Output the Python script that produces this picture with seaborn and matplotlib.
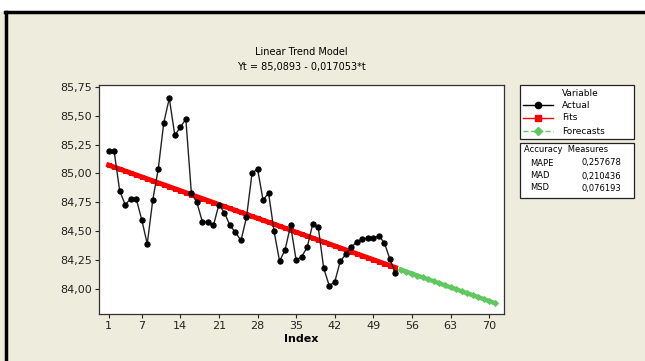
import numpy as np
import pandas as pd
import matplotlib
matplotlib.use("Agg")
import matplotlib.pyplot as plt
import seaborn as sns
from matplotlib.lines import Line2D
from matplotlib.patches import Rectangle
from matplotlib.ticker import FuncFormatter

# observed series (Index 1..53)
actual = [85.19, 85.19, 84.85, 84.73, 84.78, 84.78, 84.60, 84.39, 84.77, 85.04,
          85.44, 85.65, 85.33, 85.40, 85.47, 84.83, 84.75, 84.58, 84.58, 84.55,
          84.73, 84.66, 84.55, 84.49, 84.42, 84.62, 85.00, 85.04, 84.77, 84.83,
          84.50, 84.24, 84.34, 84.55, 84.25, 84.28, 84.36, 84.56, 84.54, 84.18,
          84.03, 84.06, 84.24, 84.30, 84.36, 84.41, 84.43, 84.44, 84.44, 84.46,
          84.40, 84.26, 84.14]

# fitted values of the trend model (Index 1..53)
fits = [85.072, 85.055, 85.038, 85.021, 85.004, 84.987, 84.970, 84.953, 84.936, 84.919,
        84.902, 84.885, 84.868, 84.851, 84.834, 84.816, 84.799, 84.782, 84.765, 84.748,
        84.731, 84.714, 84.697, 84.680, 84.663, 84.646, 84.629, 84.612, 84.595, 84.578,
        84.561, 84.544, 84.527, 84.510, 84.492, 84.475, 84.458, 84.441, 84.424, 84.407,
        84.390, 84.373, 84.356, 84.339, 84.322, 84.305, 84.288, 84.271, 84.254, 84.237,
        84.220, 84.203, 84.186]

# forecasts (Index 54..71)
forecasts = [84.168, 84.151, 84.134, 84.117, 84.100, 84.083, 84.066, 84.049, 84.032,
             84.015, 83.998, 83.981, 83.964, 83.947, 83.930, 83.913, 83.896, 83.879]

x_ticks = [1, 7, 14, 21, 28, 35, 42, 49, 56, 63, 70]
y_ticks = [84.00, 84.25, 84.50, 84.75, 85.00, 85.25, 85.50, 85.75]

measure_names = ["MAPE", "MAD", "MSD"]
measure_values = ["0,257678", "0,210436", "0,076193"]

df_act = pd.DataFrame({"Index": np.arange(1, len(actual) + 1), "value": actual})
df_fit = pd.DataFrame({"Index": np.arange(1, len(fits) + 1), "value": fits})
df_fc = pd.DataFrame({"Index": np.arange(len(fits) + 1, len(fits) + len(forecasts) + 1),
                      "value": forecasts})

W, H = 645, 361
bg = "#eeecdc"
red = "#ff0000"
green = "#5fc85f"


def fx(px):
    return px / W


def fy(py):
    return 1 - py / H


fig = plt.figure(figsize=(W / 100, H / 100), dpi=100, facecolor=bg)

# white strip and black border like the cropped page
fig.patches.append(Rectangle((0, fy(12)), 1, 12 / H, transform=fig.transFigure,
                             facecolor="white", edgecolor="none", zorder=0))
fig.add_artist(Line2D([fx(5), 1], [fy(12), fy(12)], transform=fig.transFigure,
                      color="black", lw=2.5))
fig.add_artist(Line2D([fx(6), fx(6)], [fy(12), 0], transform=fig.transFigure,
                      color="black", lw=2.5))

ax = fig.add_axes([fx(99), fy(314), (504 - 99) / W, (314 - 85) / H])
ax.set_facecolor("white")

sns.lineplot(data=df_fit, x="Index", y="value", color=red, lw=3.6, marker="s",
             markersize=3.2, markeredgecolor=red, ax=ax, zorder=2)
sns.lineplot(data=df_fc, x="Index", y="value", color=green, lw=3.2, marker="D",
             markersize=3.0, markeredgecolor=green, ax=ax, zorder=2)
sns.lineplot(data=df_act, x="Index", y="value", color="#222222", lw=1.0, marker="o",
             markersize=3.8, markerfacecolor="black", markeredgecolor="black", ax=ax, zorder=3)

ax.set_xlim(-0.75, 72.7)
ax.set_ylim(83.784, 85.765)
ax.set_xticks(x_ticks)
ax.set_yticks(y_ticks)
ax.yaxis.set_major_formatter(FuncFormatter(lambda v, p: f"{v:.2f}".replace(".", ",")))
ax.tick_params(direction="out", length=3, width=0.8, labelsize=8, colors="#222222", pad=2)
for s in ax.spines.values():
    s.set_color("#333333")
    s.set_linewidth(0.9)
ax.set_ylabel("")
ax.set_xlabel("Index", fontsize=8, fontweight="bold", labelpad=2)

fig.text(fx(301), fy(52), "Linear Trend Model", ha="center", va="center", fontsize=7)
fig.text(fx(301), fy(67), "Yt = 85,0893 - 0,017053*t", ha="center", va="center", fontsize=7)

# legend box
fig.patches.append(Rectangle((fx(520), fy(139)), 114 / W, 54 / H, transform=fig.transFigure,
                             facecolor="white", edgecolor="#222222", lw=0.9))
fig.text(fx(562), fy(93), "Variable", va="center", fontsize=6.5)
rows = [("Actual", "black", "o", 105), ("Fits", red, "s", 118), ("Forecasts", green, "D", 131)]
for label, col, mk, py in rows:
    fig.add_artist(Line2D([fx(523), fx(553)], [fy(py), fy(py)], transform=fig.transFigure,
                          color=col, lw=1, ls="-" if col != green else "--"))
    fig.add_artist(Line2D([fx(538)], [fy(py)], transform=fig.transFigure, color=col,
                          marker=mk, markersize=4.5, lw=0))
    fig.text(fx(562), fy(py), label, va="center", fontsize=6.5)

# accuracy measures box
fig.patches.append(Rectangle((fx(520), fy(198)), 114 / W, 55 / H, transform=fig.transFigure,
                             facecolor="white", edgecolor="#222222", lw=0.9))
fig.text(fx(524), fy(150), "Accuracy  Measures", va="center", fontsize=6)
for name, val, py in zip(measure_names, measure_values, [163, 176, 188]):
    fig.text(fx(530), fy(py), name, va="center", fontsize=6)
    fig.text(fx(581), fy(py), val, va="center", fontsize=6)

fig.savefig("out.png", dpi=100, facecolor=fig.get_facecolor())
